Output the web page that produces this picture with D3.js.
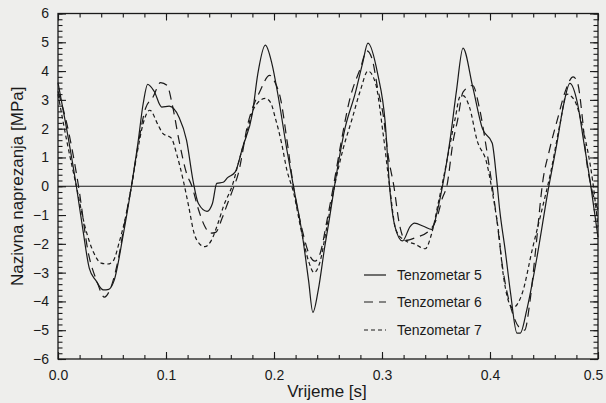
<!DOCTYPE html>
<html>
<head>
<meta charset="utf-8">
<script src="https://cdn.jsdelivr.net/npm/d3@7"></script>
<style>
  html, body { margin: 0; padding: 0; background: #eeeeec; }
  svg { display: block; font-family: "Liberation Sans", Arial, sans-serif; }
</style>
</head>
<body>
<svg id="chart" width="606" height="403"></svg>
<script>
// ---- Data ----
const seriesNames = ["Tenzometar 5", "Tenzometar 6", "Tenzometar 7"];

const t5 = [0, 0.007, 0.017, 0.023, 0.029, 0.035, 0.042, 0.047, 0.052, 0.060, 0.068, 0.074, 0.079, 0.083, 0.089, 0.096, 0.103, 0.112, 0.119, 0.125, 0.130, 0.138, 0.143, 0.147, 0.153, 0.157, 0.164, 0.171, 0.180, 0.185, 0.192, 0.198, 0.204, 0.212, 0.218, 0.226, 0.232, 0.236, 0.241, 0.247, 0.251, 0.256, 0.266, 0.275, 0.282, 0.287, 0.296, 0.303, 0.307, 0.312, 0.319, 0.326, 0.330, 0.339, 0.346, 0.352, 0.356, 0.363, 0.369, 0.375, 0.384, 0.393, 0.402, 0.406, 0.409, 0.414, 0.419, 0.425, 0.428, 0.434, 0.443, 0.454, 0.462, 0.468, 0.474, 0.481, 0.487, 0.493, 0.500];
const v5 = [3.6, 2.2, 0, -1.5, -2.85, -3.27, -3.6, -3.58, -3.27, -1.77, 0, 1.5, 2.9, 3.54, 3.3, 2.75, 2.78, 2.4, 1.6, 0.2, -0.6, -0.87, -0.6, 0.1, 0.14, 0.3, 0.49, 1.36, 2.53, 3.9, 4.9, 4.27, 3.1, 1.25, 0, -1.64, -3.27, -4.38, -3.6, -2.1, -1.2, 0, 2.05, 3.2, 4.27, 4.97, 3.9, 2.2, 0, -1.4, -1.9, -1.4, -1.28, -1.4, -1.5, -0.73, 0, 1.6, 3.33, 4.8, 3.45, 2.0, 1.5, 0.3, -0.83, -2.2, -3.7, -5.1, -5.1, -4.3, -2.57, -0.1, 1.5, 2.8, 3.57, 2.88, 1.5, 0.1, -1.77];

const t6 = [0, 0.008, 0.019, 0.028, 0.036, 0.043, 0.048, 0.056, 0.062, 0.068, 0.074, 0.081, 0.088, 0.095, 0.101, 0.106, 0.112, 0.119, 0.124, 0.130, 0.136, 0.141, 0.146, 0.152, 0.157, 0.162, 0.167, 0.176, 0.187, 0.196, 0.201, 0.206, 0.212, 0.218, 0.226, 0.233, 0.238, 0.243, 0.249, 0.255, 0.262, 0.270, 0.280, 0.286, 0.291, 0.296, 0.301, 0.306, 0.311, 0.316, 0.322, 0.332, 0.342, 0.351, 0.356, 0.360, 0.366, 0.370, 0.375, 0.384, 0.390, 0.398, 0.406, 0.412, 0.420, 0.427, 0.432, 0.437, 0.442, 0.449, 0.455, 0.463, 0.470, 0.477, 0.481, 0.486, 0.489, 0.493, 0.500];
const v6 = [3.3, 2.2, 0, -2.3, -3.3, -3.85, -3.6, -2.5, -1.2, 0, 1.4, 2.7, 3.1, 3.6, 3.5, 2.8, 1.6, 0.45, 0, -0.8, -1.4, -1.63, -1.6, -1.1, -0.6, -0.1, 0.45, 2.2, 3.3, 3.85, 3.6, 3.05, 1.6, 0, -1.5, -2.4, -2.6, -2.3, -1.2, 0, 1.5, 3.0, 4.1, 4.7, 4.4, 3.4, 2.5, 1.0, 0, -1.3, -1.88, -1.77, -1.6, -1.08, -0.4, 0, 1.6, 2.3, 3.27, 3.5, 2.75, 1.0, -1.07, -2.9, -4.3, -4.9, -5.0, -4.0, -2.3, 0.2, 1.25, 2.4, 3.33, 3.8, 3.6, 2.2, 1.0, 0.1, -0.8];

const t7 = [0, 0.008, 0.017, 0.025, 0.033, 0.040, 0.046, 0.051, 0.057, 0.063, 0.068, 0.074, 0.079, 0.085, 0.093, 0.097, 0.105, 0.110, 0.116, 0.121, 0.126, 0.131, 0.136, 0.142, 0.148, 0.153, 0.162, 0.167, 0.173, 0.182, 0.192, 0.197, 0.201, 0.207, 0.212, 0.218, 0.225, 0.232, 0.237, 0.242, 0.249, 0.256, 0.264, 0.272, 0.280, 0.287, 0.294, 0.301, 0.307, 0.313, 0.321, 0.330, 0.340, 0.346, 0.352, 0.357, 0.368, 0.372, 0.375, 0.381, 0.388, 0.397, 0.403, 0.408, 0.412, 0.421, 0.430, 0.439, 0.448, 0.456, 0.465, 0.471, 0.478, 0.487, 0.495, 0.500];
const v7 = [3.2, 1.6, 0, -1.4, -2.3, -2.67, -2.7, -2.6, -1.9, -1.0, 0, 1.3, 2.2, 2.64, 2.1, 1.84, 1.67, 1.1, 0.2, -0.7, -1.63, -2.0, -2.1, -1.88, -1.3, -0.72, 0.1, 0.8, 1.6, 2.75, 3.05, 2.9, 2.4, 1.5, 0.55, -0.2, -1.5, -2.6, -3.0, -2.7, -1.4, 0, 1.3, 2.3, 3.33, 4.0, 3.58, 1.84, 0, -1.53, -1.88, -2.0, -2.17, -1.64, -0.6, 0.3, 2.4, 3.1, 3.15, 2.75, 1.6, 0.8, -0.38, -1.6, -3.0, -4.22, -3.7, -2.22, -0.83, 0.45, 2.2, 3.2, 3.0, 1.84, 0.2, -1.4];

const xTicks = [0.0, 0.1, 0.2, 0.3, 0.4, 0.5];
const yTicks = [-6, -5, -4, -3, -2, -1, 0, 1, 2, 3, 4, 5, 6];
const xLabel = "Vrijeme [s]";
const yLabel = "Nazivna naprezanja [MPa]";

(function () {
// ---- Layout ----
const mLeft = 58, mRight = 598, mTop = 13.5, mBottom = 359;
const svg = d3.select("#chart");

const x = d3.scaleLinear().domain([0, 0.5]).range([mLeft, mRight]);
const y = d3.scaleLinear().domain([-6, 6]).range([mBottom, mTop]);

const ink = "#1a1a1a";

// frame
svg.append("rect").attr("x", mLeft).attr("y", mTop)
  .attr("width", mRight - mLeft).attr("height", mBottom - mTop)
  .attr("fill", "none").attr("stroke", ink).attr("stroke-width", 1.3);

// minor ticks
const xMinor = d3.range(0, 0.5001, 0.02);
const yMinor = d3.range(-6, 6.001, 0.2);

function addAxis(axis, transform, noText) {
  const g = svg.append("g").attr("transform", transform).call(axis);
  g.select(".domain").remove();
  g.selectAll("line").attr("stroke", ink).attr("stroke-width", 1.1);
  if (noText) g.selectAll("text").remove();
  return g;
}

// bottom
addAxis(d3.axisBottom(x).tickValues(xMinor).tickSize(-4), `translate(0,${mBottom})`, true);
const gx = addAxis(d3.axisBottom(x).tickValues(xTicks).tickSize(-7).tickPadding(11).tickFormat(d3.format(".1f")), `translate(0,${mBottom})`, false);
gx.selectAll("text").attr("font-size", 14).attr("fill", ink).attr("font-family", "Liberation Sans, Arial, sans-serif")
  .filter(d => d === 0.5).attr("dx", -5);
// top
addAxis(d3.axisTop(x).tickValues(xMinor).tickSize(-4), `translate(0,${mTop})`, true);
addAxis(d3.axisTop(x).tickValues(xTicks).tickSize(-7), `translate(0,${mTop})`, true);
// left
addAxis(d3.axisLeft(y).tickValues(yMinor).tickSize(-4.5), `translate(${mLeft},0)`, true);
const gy = addAxis(d3.axisLeft(y).tickValues(yTicks).tickSize(-8).tickPadding(9).tickFormat(d3.format("d")), `translate(${mLeft},0)`, false);
gy.selectAll("text").attr("font-size", 14).attr("fill", ink).attr("font-family", "Liberation Sans, Arial, sans-serif");
// right
addAxis(d3.axisRight(y).tickValues(yMinor).tickSize(-4.5), `translate(${mRight},0)`, true);
addAxis(d3.axisRight(y).tickValues(yTicks).tickSize(-8), `translate(${mRight},0)`, true);

// zero line
svg.append("line").attr("x1", mLeft).attr("x2", mRight)
  .attr("y1", y(0)).attr("y2", y(0))
  .attr("stroke", ink).attr("stroke-width", 1.1);

// series
const line = d3.line().x(d => x(d[0])).y(d => y(d[1])).curve(d3.curveMonotoneX);
const series = [
  { name: seriesNames[0], t: t5, v: v5, dash: null },
  { name: seriesNames[1], t: t6, v: v6, dash: "9,6" },
  { name: seriesNames[2], t: t7, v: v7, dash: "4,3" }
];
series.forEach(s => {
  svg.append("path")
    .datum(s.t.map((tt, i) => [tt, s.v[i]]))
    .attr("d", line)
    .attr("fill", "none")
    .attr("stroke", ink)
    .attr("stroke-width", 1.2)
    .attr("stroke-dasharray", s.dash);
});

// legend
const legY = [275, 302, 330];
series.forEach((s, i) => {
  svg.append("line").attr("x1", 364).attr("x2", 386)
    .attr("y1", legY[i]).attr("y2", legY[i])
    .attr("stroke", ink).attr("stroke-width", 1.2)
    .attr("stroke-dasharray", s.dash);
  svg.append("text").attr("x", 397).attr("y", legY[i] + 5)
    .attr("font-size", 14).attr("fill", ink).text(s.name);
});

// axis titles
svg.append("text").attr("x", (mLeft + mRight) / 2 - 1).attr("y", 397)
  .attr("text-anchor", "middle").attr("font-size", 17).attr("fill", ink).text(xLabel);
svg.append("text").attr("transform", `translate(23,${(mTop + mBottom) / 2}) rotate(-90)`)
  .attr("text-anchor", "middle").attr("font-size", 17).attr("fill", ink).text(yLabel);
})();
</script>
</body>
</html>
